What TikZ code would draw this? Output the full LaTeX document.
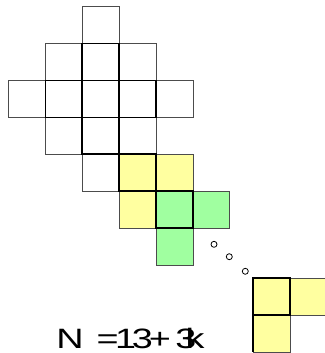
\documentclass[tikz,border=0pt]{standalone}
\usepackage{graphicx}
\usepackage{fontspec}
\setmainfont{Liberation Sans}
\definecolor{cyel}{RGB}{255,255,160}
\definecolor{cgrn}{RGB}{160,255,160}
\tikzset{
  cellthin/.style={draw=black!70, line width=0.9pt},
  edgebold/.style={draw=black, line width=1.8pt, line cap=rect},
  dotc/.style={draw=black, line width=0.8pt, circle, minimum size=6pt, inner sep=0pt},
  eqchar/.style={anchor=base west, inner sep=0pt, font=\fontsize{28}{28}\selectfont},
}
\newcommand{\wide}[1]{\scalebox{1.35}[1]{#1}}
\begin{document}
\begin{tikzpicture}[x=1pt,y=-1pt]
\useasboundingbox (0,0) rectangle (324,353);
\def\cs{36.9}
\def\xo{8.5}
\def\yo{6.7}
% main grid cells
\foreach \c/\r in {2/0,1/1,2/1,3/1,0/2,1/2,2/2,3/2,4/2,1/3,2/3,3/3,2/4}
  \path[cellthin, fill=white] ({\xo+\c*\cs},{\yo+\r*\cs}) rectangle ++(\cs,\cs);
\foreach \c/\r in {3/4,4/4,3/5}
  \path[cellthin, fill=cyel] ({\xo+\c*\cs},{\yo+\r*\cs}) rectangle ++(\cs,\cs);
\foreach \c/\r in {4/5,5/5,4/6}
  \path[cellthin, fill=cgrn] ({\xo+\c*\cs},{\yo+\r*\cs}) rectangle ++(\cs,\cs);
% shared edges (bold)
\foreach \c/\r in {2/1,1/2,2/2,3/2,1/3,2/3,3/3,2/4,3/4,3/5,4/5,4/6}
  \path[edgebold] ({\xo+\c*\cs},{\yo+\r*\cs}) -- ++(\cs,0);
\foreach \c/\r in {2/1,3/1,1/2,2/2,3/2,4/2,2/3,3/3,3/4,4/4,4/5,5/5}
  \path[edgebold] ({\xo+\c*\cs},{\yo+\r*\cs}) -- ++(0,\cs);
% bottom-right group
\path[cellthin, fill=cyel] (290.2,278.3) rectangle ++(\cs,\cs);
\path[cellthin, fill=cyel] (253.3,315.2) rectangle ++(\cs,\cs);
\path[cellthin, fill=cyel] (253.3,278.3) rectangle ++(\cs,\cs);
\path[edgebold, line cap=butt] (253.3,278.3) rectangle ++(\cs,\cs);
\path[edgebold, line cap=butt] (253.3,315.2) -- ++(0,\cs);
% dots
\node[dotc] (d1) at (214,244.3) {};
\node[dotc] (d2) at (229.3,256.7) {};
\node[dotc] (d3) at (245.3,271.3) {};
% formula
\node[eqchar] (tN) at (56.1,348.3) {\wide{N}};
\node[eqchar] (tEq) at (96.5,348.3) {\wide{=}};
\node[eqchar] (t1) at (115,348.3) {\wide{1}};
\node[eqchar] (t3a) at (131.7,348.3) {\wide{3}};
\node[eqchar] (tPlus) at (148.6,348.3) {\wide{+}};
\node[eqchar] (t3b) at (175.1,348.3) {\wide{3}};
\node[eqchar] (tk) at (185.5,348.3) {\wide{k}};
\end{tikzpicture}
\end{document}
